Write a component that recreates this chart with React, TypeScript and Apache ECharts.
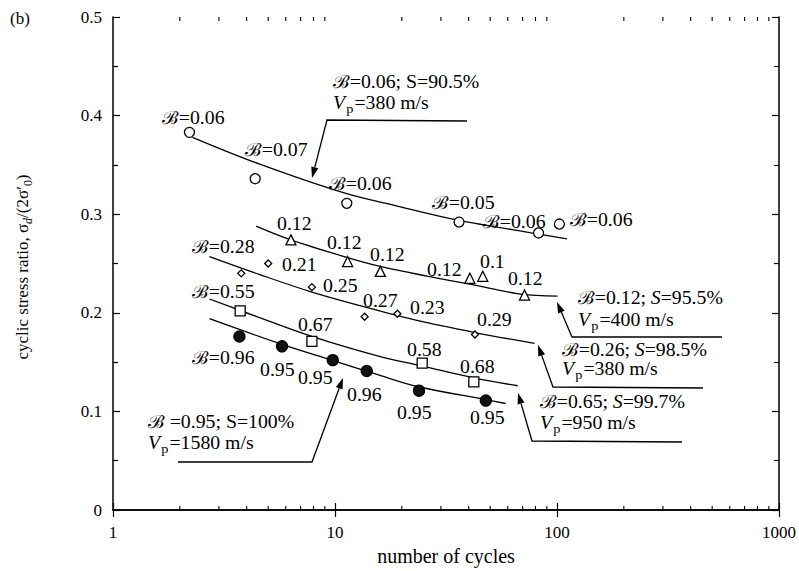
import { useEffect, useRef } from "react";
import * as echarts from "echarts";

// ---------------- data ----------------
// open circles (B≈0.06, S=90.5%)
const cyclesCircle = [2.21, 4.37, 11.3, 36.2, 82.6, 102.5];
const csrCircle = [0.383, 0.336, 0.311, 0.292, 0.281, 0.29];
const fitCyclesCircle = [2.28, 4.55, 11.2, 19.3, 35.8, 81.7, 111];
const fitCsrCircle = [0.378, 0.351, 0.321, 0.308, 0.294, 0.28, 0.275];

// open triangles (B=0.12, S=95.5%)
const cyclesTriangle = [6.33, 11.4, 16.0, 40.5, 46.3, 71.4];
const csrTriangle = [0.274, 0.252, 0.242, 0.235, 0.237, 0.218];
const fitCyclesTriangle = [4.41, 6.33, 11.4, 16.0, 26.3, 40.5, 68.6, 100.5];
const fitCsrTriangle = [0.288, 0.274, 0.256, 0.247, 0.237, 0.229, 0.219, 0.217];

// small open diamonds (B=0.26, S=98.5%)
const cyclesDiamond = [3.78, 5.0, 7.87, 13.6, 19.1, 42.7];
const csrDiamond = [0.24, 0.25, 0.226, 0.196, 0.199, 0.178];
const fitCyclesDiamond = [2.72, 4.55, 7.87, 13.6, 23.7, 42.7, 79.2];
const fitCsrDiamond = [0.257, 0.239, 0.221, 0.206, 0.192, 0.18, 0.169];

// open squares (B=0.65, S=99.7%)
const cyclesSquare = [3.74, 7.87, 24.7, 42.2];
const csrSquare = [0.202, 0.171, 0.149, 0.13];
const fitCyclesSquare = [2.72, 3.78, 7.87, 15.7, 24.7, 42.2, 66.5];
const fitCsrSquare = [0.214, 0.202, 0.176, 0.156, 0.146, 0.134, 0.126];

// filled circles (B=0.95, S=100%)
const cyclesFilled = [3.71, 5.77, 9.77, 13.9, 23.9, 47.8];
const csrFilled = [0.176, 0.166, 0.152, 0.141, 0.121, 0.111];
const fitCyclesFilled = [2.72, 5.77, 9.67, 15.7, 23.7, 47.8, 58.7];
const fitCsrFilled = [0.194, 0.168, 0.152, 0.137, 0.125, 0.112, 0.108];

// log-axis minor tick positions
const minorLogTicks = [2, 3, 4, 5, 6, 7, 8, 9, 20, 30, 40, 50, 60, 70, 80, 90, 200, 300, 400, 500, 600, 700, 800, 900];

const FONT = "'Liberation Serif', 'Times New Roman', 'DejaVu Serif', serif";
const zip = (xs: number[], ys: number[]) => xs.map((x, i) => [x, ys[i]]);

const richStyles = {
  v: { fontStyle: "italic", fontSize: 18, fontFamily: FONT, fill: "#000" },
  s: { fontSize: 13, fontFamily: FONT, padding: [11, 1, 0, 1], verticalAlign: "bottom", fill: "#000" },
  i: { fontStyle: "italic", fontSize: 18, fontFamily: FONT, fill: "#000" },
};

function txt(x: number, y: number, text: string, size = 18, sx = 1.1): any {
  return {
    type: "text",
    x,
    y,
    scaleX: sx,
    z: 100,
    style: {
      text,
      fontSize: size,
      fontFamily: FONT,
      fill: "#000",
      align: "left",
      verticalAlign: "middle",
      rich: richStyles,
    },
  };
}

function leader(points: number[][]): any[] {
  const n = points.length;
  const tip = points[n - 1];
  const from = points[n - 2];
  const dx = tip[0] - from[0];
  const dy = tip[1] - from[1];
  const len = Math.sqrt(dx * dx + dy * dy);
  const ux = dx / len;
  const uy = dy / len;
  const L = 11;
  const W = 3.6;
  const bx = tip[0] - ux * L;
  const by = tip[1] - uy * L;
  return [
    {
      type: "polyline",
      z: 100,
      shape: { points: points.slice(0, n - 1).concat([[bx, by]]) },
      style: { stroke: "#000", lineWidth: 1.3, fill: null },
    },
    {
      type: "polygon",
      z: 100,
      shape: {
        points: [
          [tip[0], tip[1]],
          [bx - uy * W, by + ux * W],
          [bx + uy * W, by - ux * W],
        ],
      },
      style: { fill: "#000" },
    },
  ];
}

export default function App() {
  const ref = useRef<HTMLDivElement>(null);

  useEffect(() => {
    document.body.style.margin = "0";
    const chart = echarts.init(ref.current!, null, { renderer: "svg" });

    const axisLineStyle = { color: "#000", width: 1.5 };
    const tickStyle = { color: "#000", width: 1.2 };

    const lineSeries = (data: number[][]) => ({
      type: "line",
      data,
      smooth: 0.35,
      symbol: "none",
      showSymbol: false,
      lineStyle: { color: "#000", width: 1.3 },
      z: 2,
      silent: true,
    });
    const scatterSeries = (data: number[][], symbol: string, size: number, filled = false) => ({
      type: "scatter",
      data,
      symbol,
      symbolSize: size,
      itemStyle: {
        color: filled ? "#111" : "#fff",
        borderColor: "#000",
        borderWidth: 1.3,
        opacity: 1,
      },
      z: 5,
      silent: true,
    });

    const option: any = {
      animation: false,
      backgroundColor: "#fff",
      textStyle: { fontFamily: FONT, color: "#000" },
      grid: { left: 113, right: 16, top: 17, bottom: 59, containLabel: false },
      xAxis: [
        {
          type: "log",
          logBase: 10,
          min: 1,
          max: 1000,
          position: "bottom",
          axisLine: { show: true, lineStyle: axisLineStyle },
          axisTick: { show: true, inside: true, length: 7, lineStyle: tickStyle },
          axisLabel: {
            color: "#000",
            fontSize: 17,
            fontFamily: FONT,
            margin: 14,
            formatter: (v: number) => String(Math.round(v)),
          },
          splitLine: { show: false },
          name: "number of cycles",
          nameLocation: "middle",
          nameGap: 36,
          nameTextStyle: { color: "#000", fontSize: 20, fontFamily: FONT },
        },
        {
          type: "log",
          logBase: 10,
          min: 1,
          max: 1000,
          position: "top",
          axisLine: { show: true, lineStyle: axisLineStyle },
          axisTick: { show: true, inside: true, length: 7, lineStyle: tickStyle },
          axisLabel: { show: false },
          splitLine: { show: false },
        },
      ],
      yAxis: [
        {
          type: "value",
          min: 0,
          max: 0.5,
          interval: 0.1,
          position: "left",
          axisLine: { show: true, lineStyle: axisLineStyle },
          axisTick: { show: true, inside: true, length: 7, lineStyle: tickStyle },
          minorTick: { show: true, splitNumber: 2, length: 5, lineStyle: tickStyle },
          axisLabel: { color: "#000", fontSize: 17, fontFamily: FONT, margin: 11 },
          splitLine: { show: false },
          minorSplitLine: { show: false },
        },
        {
          type: "value",
          min: 0,
          max: 0.5,
          interval: 0.1,
          position: "right",
          axisLine: { show: true, lineStyle: axisLineStyle },
          axisTick: { show: true, inside: true, length: 7, lineStyle: tickStyle },
          minorTick: { show: true, splitNumber: 2, length: 5, lineStyle: tickStyle },
          axisLabel: { show: false },
          splitLine: { show: false },
          minorSplitLine: { show: false },
        },
      ],
      series: [
        {
          type: "custom",
          xAxisIndex: 0,
          yAxisIndex: 0,
          silent: true,
          z: 1,
          data: minorLogTicks.map((v) => [v, 0]),
          renderItem: (_params: any, api: any) => {
            const v = api.value(0);
            const pb = api.coord([v, 0]);
            const pt = api.coord([v, 0.5]);
            const st = { stroke: "#000", lineWidth: 1.1 };
            return {
              type: "group",
              children: [
                { type: "line", shape: { x1: pb[0], y1: pb[1], x2: pb[0], y2: pb[1] - 4 }, style: st },
                { type: "line", shape: { x1: pt[0], y1: pt[1], x2: pt[0], y2: pt[1] + 4 }, style: st },
              ],
            };
          },
        },
        lineSeries(zip(fitCyclesCircle, fitCsrCircle)),
        lineSeries(zip(fitCyclesTriangle, fitCsrTriangle)),
        lineSeries(zip(fitCyclesDiamond, fitCsrDiamond)),
        lineSeries(zip(fitCyclesSquare, fitCsrSquare)),
        lineSeries(zip(fitCyclesFilled, fitCsrFilled)),
        scatterSeries(zip(cyclesCircle, csrCircle), "circle", 10),
        scatterSeries(zip(cyclesTriangle, csrTriangle), "triangle", 10),
        scatterSeries(zip(cyclesDiamond, csrDiamond), "diamond", 7),
        scatterSeries(zip(cyclesSquare, csrSquare), "rect", 10),
        scatterSeries(zip(cyclesFilled, csrFilled), "circle", 11, true),
      ],
      graphic: [
        txt(10, 18, "(b)", 17, 1),
        {
          type: "text",
          x: 22,
          y: 267,
          rotation: Math.PI / 2,
          style: {
            text: "cyclic stress ratio, σ{d|d}/(2σ′{s|0})",
            fontSize: 17,
            fontFamily: FONT,
            fill: "#000",
            align: "center",
            verticalAlign: "middle",
            rich: {
              d: { fontStyle: "italic", fontSize: 12, fontFamily: FONT, padding: [11, 0, 0, 0], verticalAlign: "bottom", fill: "#000" },
              s: { fontSize: 12, fontFamily: FONT, padding: [11, 0, 0, 0], verticalAlign: "bottom", fill: "#000" },
            },
          },
        },
        // open-circle series labels
        txt(162, 118, "ℬ=0.06"),
        txt(245, 150, "ℬ=0.07"),
        txt(329, 184, "ℬ=0.06"),
        txt(432, 203, "ℬ=0.05"),
        txt(483, 222, "ℬ=0.06"),
        txt(570, 220, "ℬ=0.06"),
        txt(333, 82, "ℬ=0.06; S=90.5%"),
        txt(333, 103, "{v|V}{s|p}=380 m/s"),
        ...leader([
          [467, 121],
          [327, 120],
          [312, 178],
        ]),
        // triangle labels
        txt(277, 224, "0.12"),
        txt(327, 243, "0.12"),
        txt(370, 255, "0.12"),
        txt(427, 270, "0.12"),
        txt(480, 262, "0.1"),
        txt(508, 279, "0.12"),
        // diamond labels
        txt(192, 247, "ℬ=0.28"),
        txt(282, 265, "0.21"),
        txt(323, 286, "0.25"),
        txt(363, 301, "0.27"),
        txt(410, 308, "0.23"),
        txt(477, 320, "0.29"),
        // square labels
        txt(192, 292, "ℬ=0.55"),
        txt(298, 325, "0.67"),
        txt(407, 350, "0.58"),
        txt(460, 367, "0.68"),
        // filled labels
        txt(192, 358, "ℬ=0.96"),
        txt(260, 370, "0.95"),
        txt(298, 378, "0.95"),
        txt(347, 395, "0.96"),
        txt(397, 413, "0.95"),
        txt(470, 418, "0.95"),
        // callouts
        txt(148, 422, "ℬ =0.95; S=100%"),
        txt(148, 443, "{v|V}{s|p}=1580 m/s"),
        ...leader([
          [178, 462],
          [312, 462],
          [343, 378],
        ]),
        txt(578, 298, "ℬ=0.12; {i|S}=95.5%"),
        txt(578, 320, "{v|V}{s|p}=400 m/s"),
        ...leader([
          [722, 337],
          [572, 337],
          [557, 302],
        ]),
        txt(562, 350, "ℬ=0.26; {i|S}=98.5%"),
        txt(562, 369, "{v|V}{s|p}=380 m/s"),
        ...leader([
          [703, 388],
          [553, 387],
          [538, 345],
        ]),
        txt(540, 402, "ℬ=0.65; {i|S}=99.7%"),
        txt(540, 423, "{v|V}{s|p}=950 m/s"),
        ...leader([
          [682, 442],
          [532, 441],
          [518, 393],
        ]),
      ],
    };

    chart.setOption(option);
    return () => chart.dispose();
  }, []);

  return (
    <div
      ref={ref}
      style={{ position: "fixed", left: 0, top: 0, width: 799, height: 571, background: "#fff" }}
    />
  );
}
